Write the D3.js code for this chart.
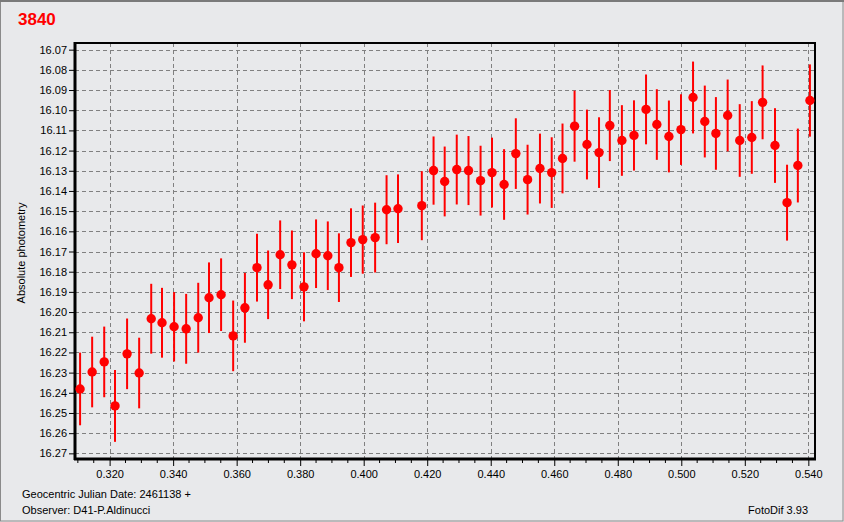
<!DOCTYPE html>
<html><head><meta charset="utf-8">
<script src="https://cdn.jsdelivr.net/npm/d3@7"></script>
<style>
html,body{margin:0;padding:0;background:#e8e9eb;}
svg{display:block;font-family:"Liberation Sans",Arial,sans-serif;}
</style></head>
<body><svg id="c" width="844" height="522"></svg>
<script>
// Geocentric Julian Date offsets (days, + 2461138)
const jd = [0.3107,0.3145,0.3183,0.3217,0.3255,0.3293,0.3331,0.3365,0.3403,0.3441,
0.3479,0.3513,0.3551,0.3589,0.3626,0.3664,0.3699,0.3737,0.3774,0.3812,
0.3850,0.3887,0.3922,0.3960,0.3997,0.4036,0.4072,0.4108,0.4183,0.4220,
0.4255,0.4293,0.4330,0.4368,0.4404,0.4442,0.4479,0.4516,0.4555,0.4592,
0.4626,0.4664,0.4703,0.4741,0.4775,0.4813,0.4851,0.4889,0.4923,0.4961,
0.4999,0.5037,0.5074,0.5109,0.5146,0.5184,0.5222,0.5256,0.5295,0.5333,
0.5367,0.5405];
// Absolute magnitudes
const mag = [16.2381,16.2297,16.2247,16.2465,16.2207,16.2302,16.2033,16.2053,16.2073,16.2083,
16.2028,16.1929,16.1914,16.2118,16.1979,16.1780,16.1865,16.1716,16.1766,16.1875,
16.1711,16.1721,16.1780,16.1656,16.1641,16.1631,16.1493,16.1488,16.1473,16.1299,
16.1353,16.1294,16.1299,16.1349,16.1309,16.1368,16.1215,16.1344,16.1289,16.1309,
16.1239,16.1079,16.1170,16.1210,16.1076,16.1150,16.1125,16.0996,16.1071,16.1130,
16.1096,16.0937,16.1056,16.1115,16.1026,16.1150,16.1135,16.0961,16.1175,16.1458,
16.1274,16.0952];
// Error (half bar length, mag)
const err = [0.0180,0.0175,0.0175,0.0178,0.0175,0.0175,0.0173,0.0173,0.0172,0.0173,
0.0173,0.0175,0.0180,0.0175,0.0173,0.0168,0.0170,0.0170,0.0170,0.0171,
0.0170,0.0170,0.0170,0.0170,0.0169,0.0173,0.0171,0.0170,0.0171,0.0169,
0.0173,0.0173,0.0171,0.0173,0.0173,0.0175,0.0175,0.0173,0.0173,0.0175,
0.0173,0.0176,0.0173,0.0175,0.0176,0.0175,0.0174,0.0173,0.0175,0.0178,
0.0175,0.0178,0.0178,0.0180,0.0178,0.0180,0.0180,0.0183,0.0185,0.0188,
0.0183,0.0179];
const xTicks = [0.32,0.34,0.36,0.38,0.40,0.42,0.44,0.46,0.48,0.50,0.52,0.54];
const yTicks = [16.07,16.08,16.09,16.10,16.11,16.12,16.13,16.14,16.15,16.16,16.17,16.18,16.19,16.20,16.21,16.22,16.23,16.24,16.25,16.26,16.27];
const title = "3840";
const yTitle = "Absolute photometry";
const xInfo = "Geocentric Julian Date: 2461138 +";
const observer = "Observer: D41-P.Aldinucci";
const software = "FotoDif 3.93";

const svg = d3.select("#c");
const W=844,H=522;
const L=75,R=815,T=43,B=459;
// outer frame
svg.append("rect").attr("x",0.5).attr("y",0.5).attr("width",W-1.5).attr("height",H-1.5)
  .attr("fill","#e8e9eb").attr("stroke","#8a8a8a").attr("stroke-width",1);
svg.append("line").attr("x1",0).attr("x2",W).attr("y1",1).attr("y2",1).attr("stroke","#7a7a7a").attr("stroke-width",2);

const x = d3.scaleLinear().domain([0.3091,0.5421]).range([L,R]);
const y = d3.scaleLinear().domain([16.0667,16.2728]).range([T,B]);

// grid
const g = svg.append("g");
g.selectAll(".hg").data(yTicks).join("line")
  .attr("x1",L).attr("x2",R).attr("y1",d=>Math.round(y(d))+0.5).attr("y2",d=>Math.round(y(d))+0.5)
  .attr("stroke","#808080").attr("stroke-dasharray","4,3");
g.selectAll(".vg").data(xTicks).join("line")
  .attr("y1",T).attr("y2",B).attr("x1",d=>Math.round(x(d))+0.5).attr("x2",d=>Math.round(x(d))+0.5)
  .attr("stroke","#808080").attr("stroke-dasharray","4,3");

// frame
svg.append("rect").attr("x",L).attr("y",T).attr("width",R-L).attr("height",B-T)
  .attr("fill","none").attr("stroke","#000").attr("stroke-width",2);
svg.append("line").attr("x1",L).attr("x2",L).attr("y1",T-1).attr("y2",B+1).attr("stroke","#000").attr("stroke-width",3);
svg.append("line").attr("x1",L-1).attr("x2",R+1).attr("y1",B).attr("y2",B).attr("stroke","#000").attr("stroke-width",3);

// axes
const yAxis = d3.axisLeft(y).tickValues(yTicks).tickFormat(d3.format(".2f")).tickSize(5).tickPadding(2);
const ya = svg.append("g").attr("transform",`translate(${L-1},0)`).call(yAxis);
ya.select(".domain").remove();
ya.selectAll("text").attr("font-size",11).attr("fill","#000").attr("font-family","'Liberation Sans',Arial,sans-serif");
ya.selectAll("line").attr("stroke","#000");

const minor = d3.range(0.310,0.5425,0.005).filter(v=>!xTicks.some(t=>Math.abs(t-v)<1e-6));
svg.append("g").selectAll("line").data(minor).join("line")
  .attr("x1",d=>x(d)).attr("x2",d=>x(d)).attr("y1",B+1).attr("y2",B+4).attr("stroke","#000");
const xAxis = d3.axisBottom(x).tickValues(xTicks).tickFormat(d3.format(".3f")).tickSize(6).tickPadding(4);
const xa = svg.append("g").attr("transform",`translate(0,${B+1})`).call(xAxis);
xa.select(".domain").remove();
xa.selectAll("text").attr("font-size",11).attr("fill","#000").attr("font-family","'Liberation Sans',Arial,sans-serif");
xa.selectAll("line").attr("stroke","#000");

// error bars
const pts = jd.map((d,i)=>({x:d,m:mag[i],e:err[i]}));
svg.append("g").selectAll("line").data(pts).join("line")
  .attr("x1",d=>x(d.x)).attr("x2",d=>x(d.x)).attr("y1",d=>y(d.m-d.e)).attr("y2",d=>y(d.m+d.e))
  .attr("stroke","#ff0000").attr("stroke-width",2);
svg.append("g").selectAll("circle").data(pts).join("circle")
  .attr("cx",d=>x(d.x)).attr("cy",d=>y(d.m)).attr("r",4.7).attr("fill","#ff0000");

// texts
svg.append("text").attr("x",18).attr("y",25).text(title)
  .attr("font-weight","bold").attr("font-size",17).attr("fill","#ff0000");
svg.append("text").attr("transform",`translate(25,${(T+B)/2+2}) rotate(-90)`).attr("text-anchor","middle")
  .attr("font-size",11).text(yTitle);
svg.append("text").attr("x",22).attr("y",498).attr("font-size",11).text(xInfo);
svg.append("text").attr("x",22).attr("y",514).attr("font-size",11).text(observer);
svg.append("text").attr("x",808).attr("y",514).attr("text-anchor","end").attr("font-size",11).text(software);
</script></body></html>
